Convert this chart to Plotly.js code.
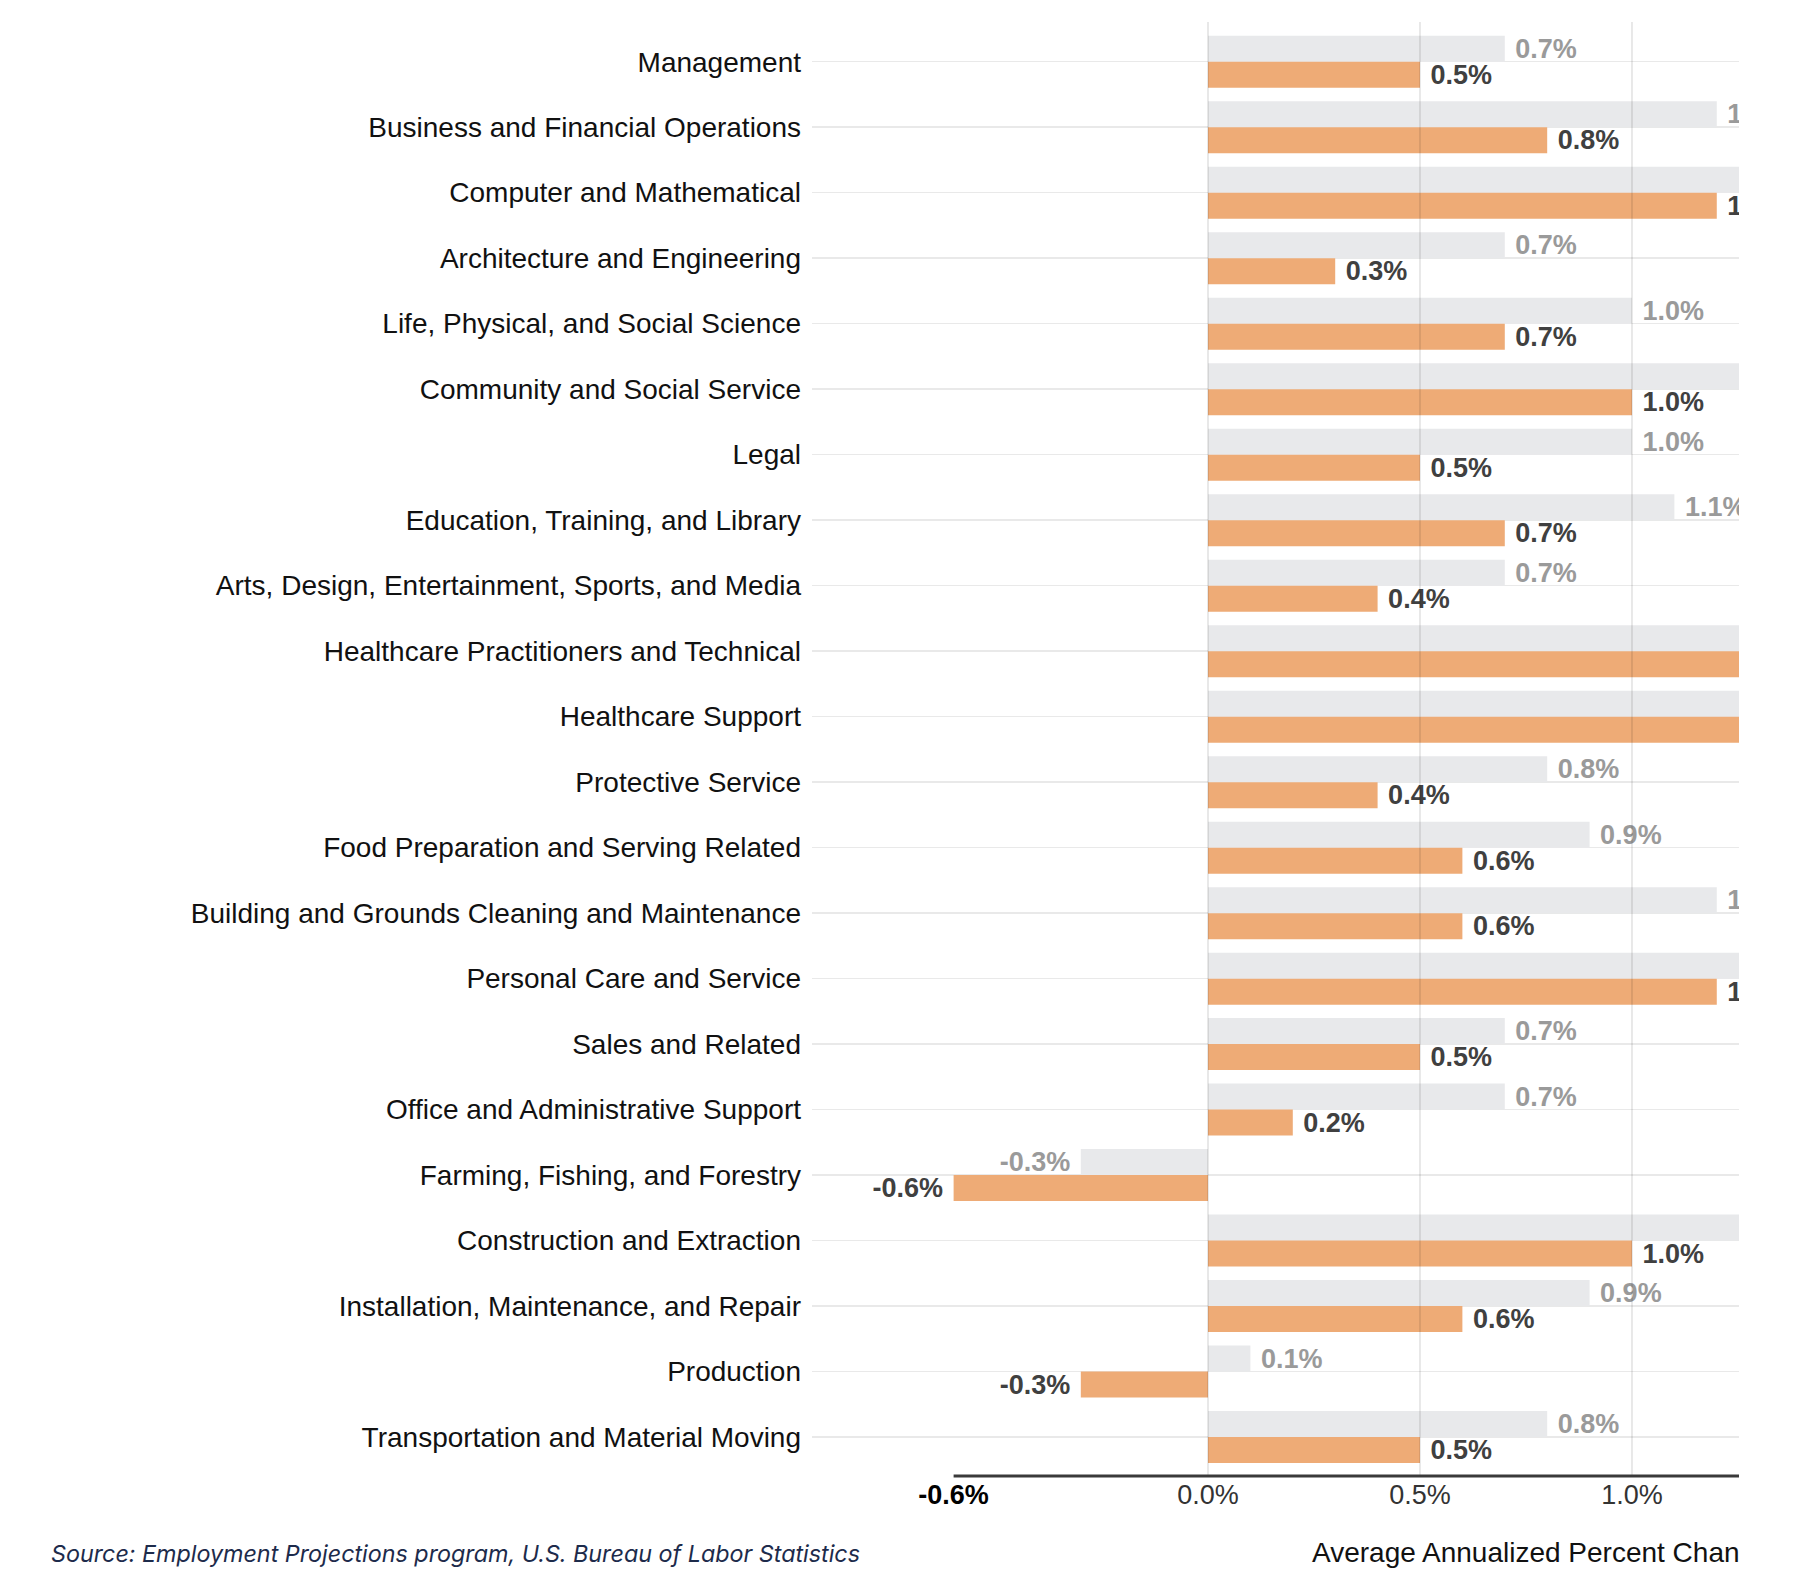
<!DOCTYPE html>
<html>
<head>
<meta charset="utf-8">
<script src="https://cdn.plot.ly/plotly-3.0.1.min.js"></script>
<style>html,body{margin:0;padding:0;background:#fff;}#chart{width:1796px;height:1588px;}</style>
</head>
<body>
<div id="chart"></div>
<script>
const categories = [
  "Management",
  "Business and Financial Operations",
  "Computer and Mathematical",
  "Architecture and Engineering",
  "Life, Physical, and Social Science",
  "Community and Social Service",
  "Legal",
  "Education, Training, and Library",
  "Arts, Design, Entertainment, Sports, and Media",
  "Healthcare Practitioners and Technical",
  "Healthcare Support",
  "Protective Service",
  "Food Preparation and Serving Related",
  "Building and Grounds Cleaning and Maintenance",
  "Personal Care and Service",
  "Sales and Related",
  "Office and Administrative Support",
  "Farming, Fishing, and Forestry",
  "Construction and Extraction",
  "Installation, Maintenance, and Repair",
  "Production",
  "Transportation and Material Moving"
];
// grey (comparison) series and orange (projected) series, average annualized % change
const greyValues   = [0.7, 1.2, 1.9, 0.7, 1.0, 1.4, 1.0, 1.1, 0.7, 1.6, 2.3, 0.8, 0.9, 1.2, 1.5, 0.7, 0.7, -0.3, 1.3, 0.9, 0.1, 0.8];
const orangeValues = [0.5, 0.8, 1.2, 0.3, 0.7, 1.0, 0.5, 0.7, 0.4, 1.4, 1.9, 0.4, 0.6, 0.6, 1.2, 0.5, 0.2, -0.6, 1.0, 0.6, -0.3, 0.5];
const tickValues = [-0.6, 0, 0.5, 1.0];
const tickLabels = ["<b><span style=\"color:#000\">-0.6%</span></b>", "0.0%", "0.5%", "1.0%"];
const sourceText = "Source: Employment Projections program, U.S. Bureau of Labor Statistics";
const axisTitleText = "Average Annualized Percent Chan";

const W = 1796, H = 1588;
const M = {l: 812, r: 57, t: 22, b: 112};
const plotW = W - M.l - M.r, plotH = H - M.t - M.b;
const xRange = [-0.934, 1.2524];
const ppx = px => (px - M.l) / plotW;
const ppy = py => (H - M.b - py) / plotH;

function labels(vals) {
  return vals.map(v => {
    const s = v.toFixed(1) + "%";
    return v < 0 ? "<b>" + s + "\u00a0</b>" : "<b>\u00a0" + s + "</b>";
  });
}

const FONT = "Liberation Sans, Arial, sans-serif";

const traces = [
  {
    type: "bar", orientation: "h", name: "grey",
    y: categories, x: greyValues,
    marker: {color: "#E8E9EB", line: {width: 0}},
    text: labels(greyValues), textposition: "outside",
    textfont: {family: FONT, size: 27, color: "#9a9a9a"},
    cliponaxis: true, constraintext: "none", hoverinfo: "skip"
  },
  {
    type: "bar", orientation: "h", name: "orange",
    y: categories, x: orangeValues,
    marker: {color: "#EEAB76", line: {width: 0}},
    text: labels(orangeValues), textposition: "outside",
    textfont: {family: FONT, size: 27, color: "#404040"},
    cliponaxis: true, constraintext: "none", hoverinfo: "skip"
  }
];

const shapes = [0, 0.5, 1.0].map(v => ({
  type: "line", xref: "x", yref: "paper", x0: v, x1: v, y0: 0, y1: 1,
  line: {color: "rgba(0,0,0,0.09)", width: 2}, layer: "above"
}));
shapes.push({
  type: "line", xref: "x", yref: "paper", x0: -0.6, x1: xRange[1], y0: 0, y1: 0,
  line: {color: "#3a3a3a", width: 3}, layer: "above"
});

const layout = {
  width: W, height: H,
  margin: M,
  paper_bgcolor: "#fff", plot_bgcolor: "#fff",
  showlegend: false,
  barmode: "group", bargap: 0.206, bargroupgap: 0,
  font: {family: FONT, color: "#111"},
  xaxis: {
    range: xRange, showgrid: false, zeroline: false, showline: false,
    tickmode: "array", tickvals: tickValues, ticktext: tickLabels,
    tickfont: {family: FONT, size: 27, color: "#333"},
    ticks: "", fixedrange: true
  },
  yaxis: {
    type: "category", categoryorder: "array", categoryarray: categories,
    range: [21.594, -0.606],
    showgrid: true, gridcolor: "#e9e9e9", gridwidth: 1.5,
    zeroline: false, showline: false, ticks: "",
    ticklabelstandoff: 10,
    tickfont: {family: FONT, size: 28, color: "#111"},
    fixedrange: true
  },
  shapes: shapes,
  annotations: [
    {
      xref: "paper", yref: "paper", x: ppx(49), y: ppy(1553),
      xanchor: "left", yanchor: "middle", showarrow: false,
      text: "<i>" + sourceText + "</i>",
      font: {family: "Inter, Noto Sans, sans-serif", size: 23.3, color: "#1d2b4b"}
    },
    {
      xref: "paper", yref: "paper", x: 1, y: ppy(1552), xshift: 3,
      xanchor: "right", yanchor: "middle", showarrow: false,
      text: axisTitleText,
      font: {family: FONT, size: 28, color: "#111"}
    }
  ]
};

Plotly.newPlot("chart", traces, layout, {displayModeBar: false, staticPlot: true});
</script>
</body>
</html>
